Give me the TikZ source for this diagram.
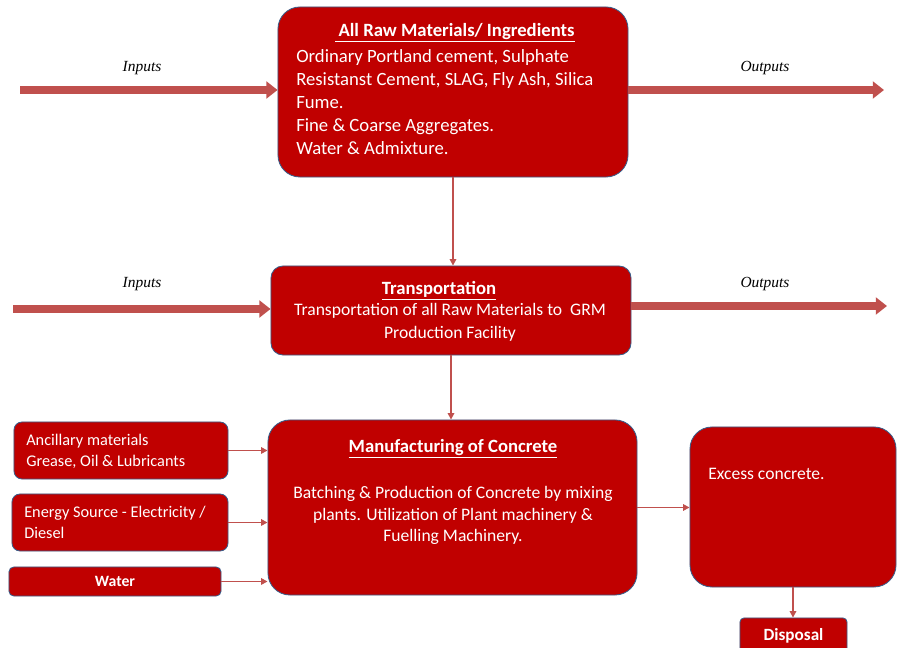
\documentclass[tikz,border=0pt]{standalone}
\usepackage{fontspec}
\setmainfont{Carlito}
\newfontfamily\labelfont{Liberation Serif}
\usetikzlibrary{arrows.meta}
\definecolor{boxred}{HTML}{C00000}
\definecolor{arrowred}{HTML}{C0504D}
\definecolor{edgeblue}{HTML}{385D8A}

\begin{document}
\begin{tikzpicture}[x=0.025cm, y=-0.025cm,
    box/.style={draw=edgeblue, line width=0.6pt, fill=boxred, text=white, inner sep=0pt},
    boxtext/.style={text=white, inner sep=0pt, font=\fontsize{13.3}{16.3}\selectfont},
    midtext/.style={text=white, inner sep=0pt, font=\fontsize{12.5}{16}\selectfont},
    smalltext/.style={text=white, inner sep=0pt, font=\fontsize{11.6}{14.9}\selectfont},
    flowlabel/.style={font=\labelfont\itshape\fontsize{11}{13}\selectfont},
    bigarrow/.style={draw=arrowred, line width=5pt, -{Triangle[length=8pt,width=12pt]}},
    thinarrow/.style={draw=arrowred, line width=1.4pt, -{Triangle[length=4.5pt,width=4.5pt]}}]
    \useasboundingbox (0,0) rectangle (897,648);
    %Main chain
    \node[box, minimum width=8.75cm, minimum height=4.25cm, rounded corners=0.55cm] (raw) at (453,92) {};
    \node[box, minimum width=9cm, minimum height=2.225cm, rounded corners=0.3cm] (transport) at (451,310.5) {};
    \node[box, minimum width=9.225cm, minimum height=4.375cm, rounded corners=0.55cm] (manuf) at (452.5,507.5) {};
    \node[box, minimum width=5.15cm, minimum height=4cm, rounded corners=0.55cm] (excess) at (793,507) {};
    \node[box, minimum width=2.675cm, minimum height=0.9cm, rounded corners=0.1cm] (disposal) at (793.5,636) {};
    %Side inputs
    \node[box, minimum width=5.35cm, minimum height=1.425cm, rounded corners=0.2cm] (ancil) at (121,450.5) {};
    \node[box, minimum width=5.4cm, minimum height=1.425cm, rounded corners=0.2cm] (energy) at (120,522.5) {};
    \node[box, minimum width=5.3cm, minimum height=0.725cm, rounded corners=0.12cm] (water) at (115,581.5) {};
    %Texts
    \node[boxtext, font=\bfseries\fontsize{13.3}{16.3}\selectfont] (rawtitle) at (455,33) {\underline{\,All Raw Materials/ Ingredients}};
    \node[boxtext, anchor=west, align=left] (rawbody) at (296,102) {Ordinary Portland cement, Sulphate\\Resistanst Cement, SLAG, Fly Ash, Silica\\Fume.\\Fine \& Coarse Aggregates.\\Water \& Admixture.};
    \node[boxtext, font=\bfseries\fontsize{13.3}{16.3}\selectfont] (transporttitle) at (439,291) {\underline{Transportation}};
    \node[midtext, align=center] (transportbody) at (450,322.5) {Transportation of all Raw Materials to\ \ GRM\\Production Facility};
    \node[boxtext, font=\bfseries\fontsize{13.3}{16.3}\selectfont] (manuftitle) at (453,449) {\underline{Manufacturing of Concrete}};
    \node[midtext, align=center, font=\fontsize{12.5}{15.5}\selectfont] (manufbody) at (453,515.5) {Batching \& Production of Concrete by mixing\\plants. Utilization of Plant machinery \&\\Fuelling Machinery.};
    \node[midtext, anchor=west] (excesstext) at (708,474) {Excess concrete.};
    \node[midtext, font=\bfseries\fontsize{12.2}{14}\selectfont] (disposaltext) at (disposal) {Disposal};
    \node[smalltext, anchor=west, align=left] (anciltext) at (26,451) {Ancillary materials\\Grease, Oil \& Lubricants};
    \node[smalltext, anchor=west, align=left] (energytext) at (24,522) {Energy Source - Electricity /\\Diesel};
    \node[smalltext, font=\bfseries\fontsize{11.2}{14}\selectfont] (watertext) at (water) {Water};
    %Inputs and outputs
    \coordinate (in1) at (20,90);
    \coordinate (out1) at (884,90);
    \coordinate (in2) at (13,309);
    \coordinate (out2) at (887,306);
    \draw[bigarrow] (in1) -- (in1 -| raw.west);
    \draw[bigarrow] (out1 -| raw.east) -- (out1);
    \draw[bigarrow] (in2) -- (in2 -| transport.west);
    \draw[bigarrow] (out2 -| transport.east) -- (out2);
    \node[flowlabel] (inlabel1) at (142,68) {Inputs};
    \node[flowlabel] (outlabel1) at (765,68) {Outputs};
    \node[flowlabel] (inlabel2) at (142,284) {Inputs};
    \node[flowlabel] (outlabel2) at (765,284) {Outputs};
    %Links
    \draw[thinarrow] (raw.south) -- (raw.south |- transport.north);
    \draw[thinarrow] (transport.south) -- (transport.south |- manuf.north);
    \draw[thinarrow] (ancil.east) -- (ancil.east -| manuf.west);
    \draw[thinarrow] (energy.east) -- (energy.east -| manuf.west);
    \draw[thinarrow] (water.east) -- (water.east -| manuf.west);
    \draw[thinarrow] (manuf.east) -- (manuf.east -| excess.west);
    \draw[thinarrow] (excess.south) -- (excess.south |- disposal.north);
\end{tikzpicture}
\end{document}
